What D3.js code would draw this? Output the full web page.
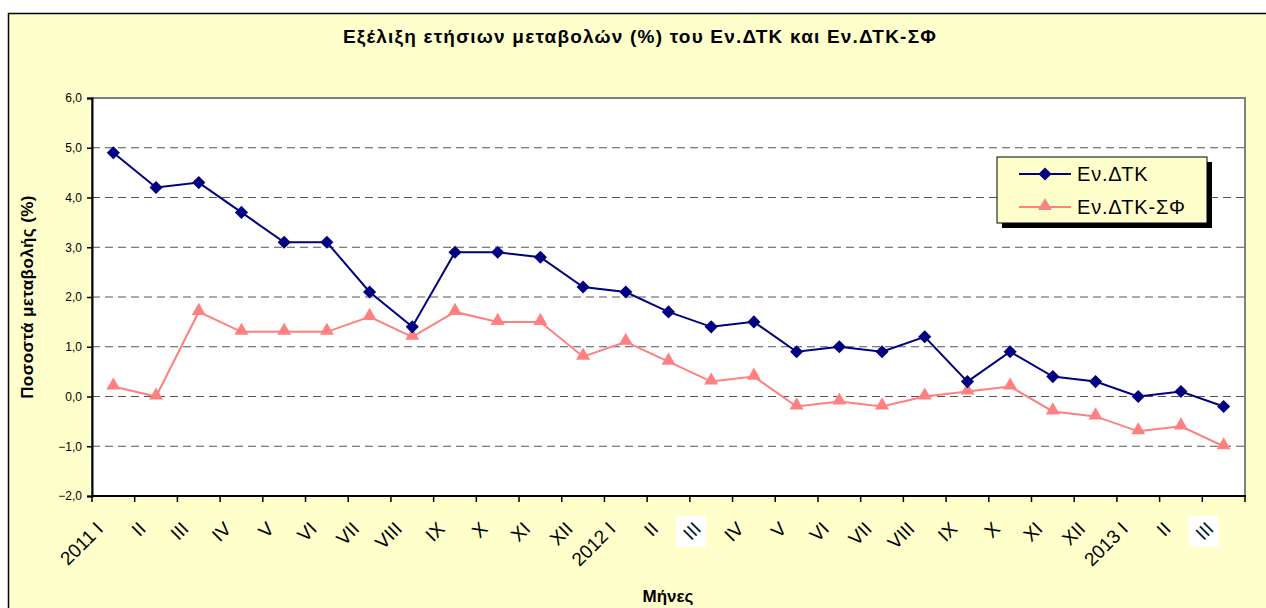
<!DOCTYPE html>
<html>
<head>
<meta charset="utf-8">
<script src="https://d3js.org/d3.v7.min.js"></script>
<style>
  body { margin: 0; background: #fff; }
  text { font-family: Arial, "Liberation Sans", sans-serif; }
</style>
</head>
<body>
<div id="chart"></div>
<script>
// month labels, 2011 I .. 2013 III
var months = ["2011 I","II","III","IV","V","VI","VII","VIII","IX","X","XI","XII",
              "2012 I","II","III","IV","V","VI","VII","VIII","IX","X","XI","XII",
              "2013 I","II","III"];
// ids keep the repeated labels apart for the band scale
var monthIds = months.map(function(m, i) { return i; });

var cpi = [4.9, 4.2, 4.3, 3.7, 3.1, 3.1, 2.1, 1.4, 2.9, 2.9, 2.8, 2.2,
           2.1, 1.7, 1.4, 1.5, 0.9, 1.0, 0.9, 1.2, 0.3, 0.9, 0.4, 0.3,
           0.0, 0.1, -0.2];
var cpiCt = [0.2, 0.0, 1.7, 1.3, 1.3, 1.3, 1.6, 1.2, 1.7, 1.5, 1.5, 0.8,
             1.1, 0.7, 0.3, 0.4, -0.2, -0.1, -0.2, 0.0, 0.1, 0.2, -0.3, -0.4,
             -0.7, -0.6, -1.0];
var yTicks = [-2, -1, 0, 1, 2, 3, 4, 5, 6];
var highlighted = [14, 26]; // the two "III" labels with a white box

var W = 1266, H = 608;
var plot = {left: 92, top: 98, right: 1245, bottom: 496};

var svg = d3.select("#chart").append("svg")
    .attr("width", W).attr("height", H);

// background (light yellow chart area)
svg.append("rect").attr("x", 0).attr("y", 0).attr("width", W).attr("height", H).attr("fill", "#fff");
svg.append("rect")
    .attr("x", 8.5).attr("y", 13.5).attr("width", W).attr("height", H)
    .attr("fill", "#FFFFCC").attr("stroke", "#000").attr("stroke-width", 1.5);

// title
svg.append("text")
    .attr("x", 640).attr("y", 43)
    .attr("text-anchor", "middle")
    .style("font-size", "19px").style("font-weight", "bold")
    .style("letter-spacing", "1.2px")
    .text("Εξέλιξη ετήσιων μεταβολών (%) του Εν.ΔΤΚ και Εν.ΔΤΚ-ΣΦ");

var x = d3.scaleBand().domain(monthIds).range([plot.left, plot.right]);
var y = d3.scaleLinear().domain([-2, 6]).range([plot.bottom, plot.top]);

// plot area
svg.append("rect")
    .attr("x", plot.left).attr("y", plot.top)
    .attr("width", plot.right - plot.left).attr("height", plot.bottom - plot.top)
    .attr("fill", "#fff").attr("stroke", "#808080").attr("stroke-width", 2);

// grid
svg.append("g").selectAll("line")
  .data(yTicks.filter(function(d) { return d > -2 && d < 6; }))
  .enter().append("line")
    .attr("x1", plot.left).attr("x2", plot.right)
    .attr("y1", function(d) { return y(d); }).attr("y2", function(d) { return y(d); })
    .attr("stroke", "#555").attr("stroke-width", 1).attr("stroke-dasharray", "8,5");

// y axis
var yAxis = svg.append("g")
    .attr("transform", "translate(" + plot.left + ",0)")
    .call(d3.axisLeft(y).tickValues(yTicks).tickSize(5).tickPadding(5)
      .tickFormat(function(d) { return d3.format(".1f")(d).replace(".", ","); }));
yAxis.select(".domain").attr("stroke", "#000").attr("stroke-width", 2);
yAxis.selectAll(".tick line").attr("stroke", "#000").attr("stroke-width", 1.5);
yAxis.selectAll(".tick text").style("font-size", "12px").attr("fill", "#000")
    .style("font-family", "Arial, 'Liberation Sans', sans-serif");

// x axis: ticks at band boundaries
var xAxisG = svg.append("g");
xAxisG.append("line")
    .attr("x1", plot.left - 1).attr("x2", plot.right + 1)
    .attr("y1", plot.bottom).attr("y2", plot.bottom)
    .attr("stroke", "#000").attr("stroke-width", 2);
xAxisG.selectAll("line.tk")
  .data(monthIds.concat([months.length]))
  .enter().append("line").attr("class", "tk")
    .attr("x1", function(d) { return d < months.length ? x(d) : plot.right; })
    .attr("x2", function(d) { return d < months.length ? x(d) : plot.right; })
    .attr("y1", plot.bottom).attr("y2", plot.bottom + 6)
    .attr("stroke", "#000").attr("stroke-width", 1.5);

// white boxes behind the highlighted labels
xAxisG.selectAll("rect.hl")
  .data(highlighted)
  .enter().append("rect").attr("class", "hl")
    .attr("x", function(d) { return x(d) + x.bandwidth() / 2 - 35; })
    .attr("y", 516).attr("width", 30).attr("height", 31)
    .attr("fill", "#fff");

xAxisG.selectAll("text.lbl")
  .data(monthIds)
  .enter().append("text").attr("class", "lbl")
    .attr("text-anchor", "end")
    .attr("transform", function(d) {
      var cx = x(d) + x.bandwidth() / 2;
      return "translate(" + (cx - 9) + "," + 530 + ") rotate(-45)";
    })
    .style("font-size", "19px")
    .attr("fill", function(d) { return highlighted.indexOf(d) >= 0 ? "#001a33" : "#000"; })
    .text(function(d) { return months[d]; });

// axis titles
svg.append("text")
    .attr("transform", "translate(33,297) rotate(-90)")
    .attr("text-anchor", "middle")
    .style("font-size", "17px").style("font-weight", "bold")
    .style("letter-spacing", "0.4px")
    .text("Ποσοστά μεταβολής (%)");
svg.append("text")
    .attr("x", 668).attr("y", 602)
    .attr("text-anchor", "middle")
    .style("font-size", "17px").style("font-weight", "bold")
    .text("Μήνες");

var line = d3.line()
    .x(function(d, i) { return x(i) + x.bandwidth() / 2; })
    .y(function(d) { return y(d); });

var blue = "#000080", pink = "#FF8080";
var diamond = d3.symbol().type(d3.symbolDiamond2).size(110);
var triangle = d3.symbol().type(d3.symbolTriangle).size(85);

svg.append("path").datum(cpiCt).attr("d", line)
    .attr("fill", "none").attr("stroke", pink).attr("stroke-width", 2);
svg.append("g").selectAll("path")
  .data(cpiCt).enter().append("path")
    .attr("d", triangle)
    .attr("transform", function(d, i) { return "translate(" + (x(i) + x.bandwidth() / 2) + "," + (y(d) - 1) + ")"; })
    .attr("fill", pink);

svg.append("path").datum(cpi).attr("d", line)
    .attr("fill", "none").attr("stroke", blue).attr("stroke-width", 2);
svg.append("g").selectAll("path")
  .data(cpi).enter().append("path")
    .attr("d", diamond)
    .attr("transform", function(d, i) { return "translate(" + (x(i) + x.bandwidth() / 2) + "," + y(d) + ")"; })
    .attr("fill", blue);

// legend
var lg = svg.append("g").attr("transform", "translate(997,157)");
lg.append("rect").attr("x", 5).attr("y", 5).attr("width", 210).attr("height", 66).attr("fill", "#000");
lg.append("rect").attr("x", 0).attr("y", 0).attr("width", 210).attr("height", 66)
    .attr("fill", "#FFFFCC").attr("stroke", "#000").attr("stroke-width", 1);
var items = [{name: "Εν.ΔΤΚ", color: blue, sym: diamond, yy: 17},
             {name: "Εν.ΔΤΚ-ΣΦ", color: pink, sym: triangle, yy: 50}];
items.forEach(function(it) {
  lg.append("line").attr("x1", 22).attr("x2", 74).attr("y1", it.yy).attr("y2", it.yy)
      .attr("stroke", it.color).attr("stroke-width", 2);
  lg.append("path").attr("d", it.sym).attr("fill", it.color)
      .attr("transform", "translate(48," + (it.yy - (it.sym === triangle ? 1 : 0)) + ")");
  lg.append("text").attr("x", 80).attr("y", it.yy + 7)
      .style("font-size", "20px").style("letter-spacing", "0.8px").text(it.name);
});
</script>
</body>
</html>
